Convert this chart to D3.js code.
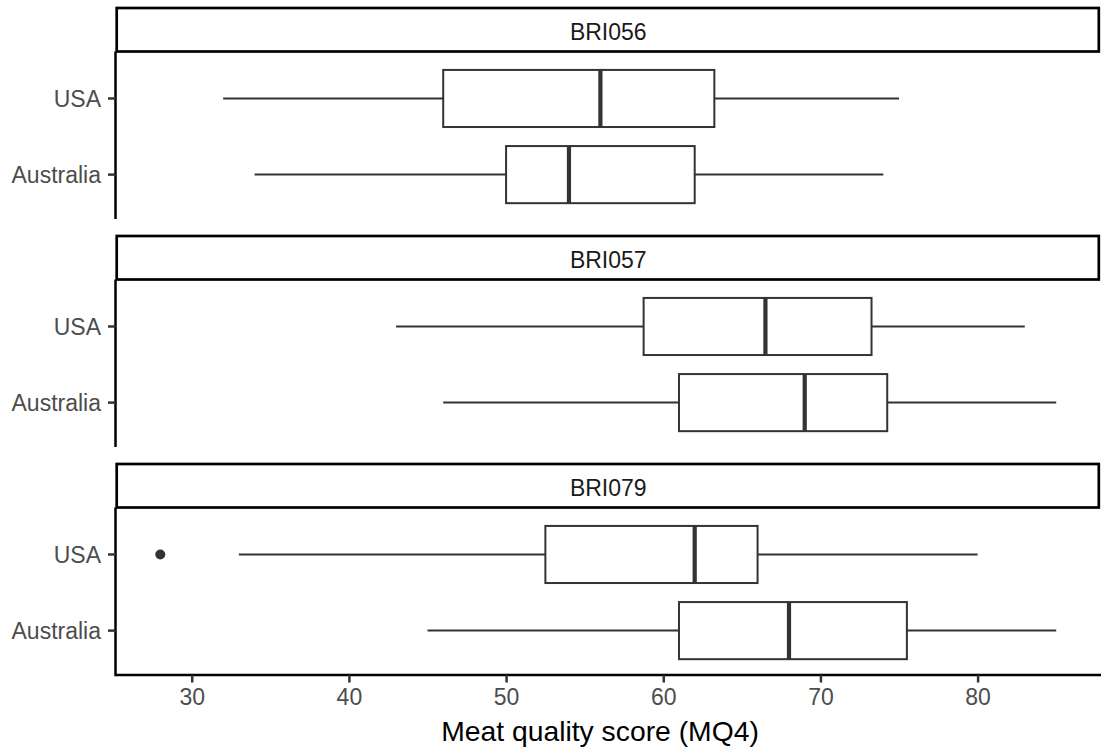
<!DOCTYPE html>
<html>
<head>
<meta charset="utf-8">
<script src="https://cdn.jsdelivr.net/npm/d3@7"></script>
<style>
  html, body { margin: 0; padding: 0; background: #fff; }
  svg { display: block; font-family: "Liberation Sans", Arial, sans-serif; }
</style>
</head>
<body>
<svg id="chart" width="1101" height="747"></svg>
<script>
// Breeds (facets) and countries (rows within each facet)
const breeds = ["BRI056", "BRI057", "BRI079"];
const countries = ["USA", "Australia"];

// Box statistics, one entry per breed x country (order: breed, then country)
const rowBreed   = ["BRI056", "BRI056", "BRI057", "BRI057", "BRI079", "BRI079"];
const rowCountry = ["USA", "Australia", "USA", "Australia", "USA", "Australia"];
const whiskerLow = [32, 34, 43, 46, 33, 45];
const q1         = [46, 50, 58.75, 61, 52.5, 61];
const median     = [56, 54, 66.5, 69, 62, 68];
const q3         = [63.25, 62, 73.25, 74.25, 66, 75.5];
const whiskerHigh= [75, 74, 83, 85, 80, 85];
const outliers   = [[], [], [], [], [28], []];

const xTicks = [30, 40, 50, 60, 70, 80];
const xTitle = "Meat quality score (MQ4)";

const rows = rowBreed.map((b, i) => ({
  breed: b, country: rowCountry[i],
  lo: whiskerLow[i], q1: q1[i], med: median[i], q3: q3[i], hi: whiskerHigh[i],
  out: outliers[i]
}));

const svg = d3.select("#chart");

// Layout
const left = 115.5, right = 1101;
const stripTop0 = 8, stripH = 43.5, panelH = 167.5, step = 228;

// x scale: data range with 5% expansion on each side
const allVals = rows.flatMap(r => [r.lo, r.hi, ...r.out]);
const [mn, mx] = d3.extent(allVals);
const pad = (mx - mn) * 0.05;
const x = d3.scaleLinear().domain([mn - pad, mx + pad]).range([left, right]);

const lineCol = "#333333";

breeds.forEach((breed, bi) => {
  const sTop = stripTop0 + bi * step;
  const pTop = sTop + stripH;
  const pBot = pTop + panelH;

  // discrete y scale (USA on top), continuous positions 1..2 with 0.6 expansion
  const yCont = d3.scaleLinear().domain([2.6, 0.4]).range([pTop + 1.3, pBot + 1.3]);
  const yPos = c => yCont(c === "USA" ? 2 : 1);
  const bandH = yCont(0) - yCont(0.75);

  // strip
  svg.append("rect")
    .attr("x", left + 1.2).attr("y", sTop)
    .attr("width", right - left - 3.4).attr("height", stripH)
    .attr("fill", "#ffffff").attr("stroke", "#000").attr("stroke-width", 2.7);
  svg.append("text")
    .attr("x", (left + right) / 2).attr("y", sTop + stripH / 2)
    .attr("dy", "0.45em")
    .attr("text-anchor", "middle")
    .attr("font-size", 23).attr("fill", "#1a1a1a")
    .text(breed);

  const g = svg.append("g");
  const data = rows.filter(r => r.breed === breed);

  data.forEach(r => {
    const cy = yPos(r.country);
    // whiskers
    g.append("line").attr("x1", x(r.lo)).attr("x2", x(r.q1))
      .attr("y1", cy).attr("y2", cy).attr("stroke", lineCol).attr("stroke-width", 2);
    g.append("line").attr("x1", x(r.q3)).attr("x2", x(r.hi))
      .attr("y1", cy).attr("y2", cy).attr("stroke", lineCol).attr("stroke-width", 2);
    // box
    g.append("rect")
      .attr("x", x(r.q1)).attr("y", cy - bandH / 2)
      .attr("width", x(r.q3) - x(r.q1)).attr("height", bandH)
      .attr("fill", "#ffffff").attr("stroke", lineCol).attr("stroke-width", 2);
    // median
    g.append("line").attr("x1", x(r.med)).attr("x2", x(r.med))
      .attr("y1", cy - bandH / 2).attr("y2", cy + bandH / 2)
      .attr("stroke", lineCol).attr("stroke-width", 4.2);
    // outliers
    r.out.forEach(v => {
      g.append("circle").attr("cx", x(v)).attr("cy", cy).attr("r", 5)
        .attr("fill", lineCol);
    });
  });

  // y axis
  svg.append("line").attr("x1", left).attr("x2", left)
    .attr("y1", pTop).attr("y2", pBot + (bi === breeds.length - 1 ? 1.2 : 0))
    .attr("stroke", "#000").attr("stroke-width", 2.5);
  countries.forEach(c => {
    const cy = yPos(c);
    svg.append("line").attr("x1", left - 7.5).attr("x2", left)
      .attr("y1", cy).attr("y2", cy).attr("stroke", "#333").attr("stroke-width", 2.5);
    svg.append("text").attr("x", left - 14.5).attr("y", cy).attr("dy", "0.36em")
      .attr("text-anchor", "end").attr("font-size", 23).attr("fill", "#4d4d4d")
      .text(c);
  });

  // x axis on the bottom panel only
  if (bi === breeds.length - 1) {
    const axis = d3.axisBottom(x).tickValues(xTicks).tickSize(7.5).tickPadding(6)
      .tickFormat(d3.format("d"));
    const ax = svg.append("g").attr("transform", `translate(0,${pBot})`).call(axis);
    ax.select(".domain").attr("stroke", "#000").attr("stroke-width", 2.5)
      .attr("d", `M${left},0H${right}`);
    ax.selectAll(".tick line").attr("stroke", "#333").attr("stroke-width", 2.5);
    ax.selectAll(".tick text").attr("font-size", 23).attr("fill", "#4d4d4d")
      .attr("font-family", "Liberation Sans, Arial, sans-serif");
    svg.append("text").attr("x", 600).attr("y", 741)
      .attr("text-anchor", "middle").attr("font-size", 28.3).attr("fill", "#000")
      .text(xTitle);
  }
});
</script>
</body>
</html>
